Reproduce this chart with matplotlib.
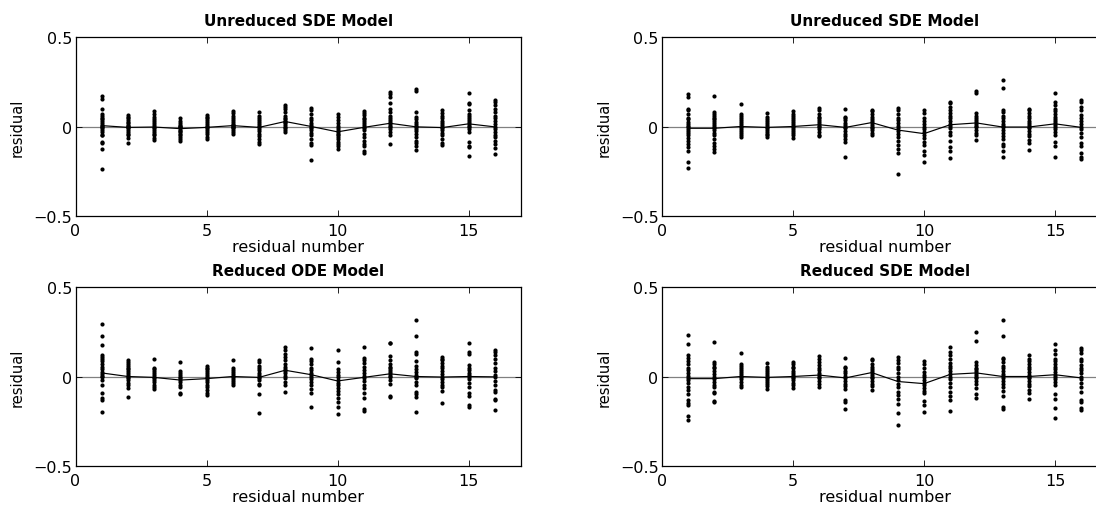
import matplotlib
matplotlib.use("Agg")
import matplotlib.pyplot as plt

plt.rcParams['font.family'] = ['DejaVu Sans']

titles = ["Unreduced SDE Model", "Unreduced SDE Model", "Reduced ODE Model", "Reduced SDE Model"]
residual_numbers = list(range(1, 17))
xticks = [0, 5, 10, 15]
yticks = [-0.5, 0, 0.5]
ytick_labels = ["\u22120.5", "0", "0.5"]

# --- Panel 1: Unreduced SDE Model (top-left) ---
p1_points = [
    [0.17, 0.155, 0.10, 0.07, 0.06, 0.05, 0.04, 0.03, 0.02, 0.01, 0.005, 0, -0.01, -0.02, -0.03, -0.045, -0.05, -0.085, -0.095, -0.127, -0.24],
    [0.063, 0.055, 0.045, 0.035, 0.025, 0.02, 0.01, 0.005, 0, -0.005, -0.01, -0.02, -0.03, -0.04, -0.05, -0.065, -0.09],
    [0.085, 0.07, 0.055, 0.04, 0.03, 0.02, 0.01, 0.0, -0.01, -0.02, -0.03, -0.04, -0.05, -0.065, -0.075],
    [0.045, 0.03, 0.02, 0.01, 0.005, 0, -0.005, -0.01, -0.02, -0.025, -0.03, -0.04, -0.05, -0.06, -0.07, -0.08],
    [0.063, 0.055, 0.045, 0.035, 0.025, 0.015, 0.005, -0.005, -0.01, -0.02, -0.03, -0.04, -0.06, -0.07],
    [0.085, 0.075, 0.06, 0.045, 0.035, 0.025, 0.015, 0.01, 0.005, 0, -0.005, -0.01, -0.02, -0.03, -0.04],
    [0.08, 0.06, 0.05, 0.035, 0.025, 0.015, 0.005, -0.005, -0.015, -0.025, -0.04, -0.055, -0.07, -0.085, -0.1],
    [0.12, 0.11, 0.1, 0.08, 0.06, 0.05, 0.04, 0.03, 0.025, 0.02, 0.01, 0.0, -0.01, -0.02, -0.03],
    [0.105, 0.09, 0.07, 0.05, 0.035, 0.02, 0.01, 0.0, -0.01, -0.02, -0.035, -0.05, -0.07, -0.09, -0.105, -0.19],
    [0.07, 0.055, 0.035, 0.02, 0.005, -0.01, -0.02, -0.03, -0.04, -0.05, -0.06, -0.07, -0.085, -0.1, -0.11, -0.125],
    [0.085, 0.075, 0.065, 0.05, 0.04, 0.03, 0.02, 0.01, 0, -0.01, -0.02, -0.04, -0.06, -0.08, -0.1, -0.11, -0.14, -0.15],
    [0.195, 0.18, 0.165, 0.13, 0.1, 0.08, 0.06, 0.045, 0.035, 0.025, 0.015, 0.005, -0.005, -0.015, -0.03, -0.045, -0.1],
    [0.21, 0.2, 0.08, 0.055, 0.04, 0.025, 0.015, 0.005, -0.005, -0.015, -0.025, -0.04, -0.06, -0.08, -0.095, -0.11, -0.13],
    [0.095, 0.075, 0.06, 0.045, 0.03, 0.02, 0.01, 0.0, -0.01, -0.02, -0.035, -0.05, -0.07, -0.09, -0.105],
    [0.19, 0.13, 0.125, 0.09, 0.07, 0.06, 0.045, 0.035, 0.025, 0.015, 0.005, -0.005, -0.015, -0.03, -0.085, -0.11, -0.115, -0.165],
    [0.15, 0.14, 0.12, 0.1, 0.08, 0.06, 0.045, 0.03, 0.015, 0.0, -0.015, -0.03, -0.045, -0.06, -0.08, -0.1, -0.12, -0.155],
]
p1_mean = [0.005, -0.005, -0.003, -0.012, -0.005, 0.005, -0.005, 0.028, 0.0, -0.03, -0.005, 0.018, -0.002, -0.006, 0.015, -0.002]

# --- Panel 2: Unreduced SDE Model (top-right) ---
p2_points = [
    [0.18, 0.165, 0.1, 0.09, 0.07, 0.05, 0.04, 0.025, 0.015, 0.005, -0.005, -0.015, -0.025, -0.035, -0.05, -0.065, -0.08, -0.1, -0.115, -0.14, -0.2, -0.235],
    [0.17, 0.08, 0.07, 0.06, 0.05, 0.04, 0.03, 0.02, 0.01, 0.0, -0.01, -0.02, -0.035, -0.05, -0.07, -0.09, -0.11, -0.125, -0.145],
    [0.125, 0.07, 0.06, 0.045, 0.035, 0.025, 0.015, 0.005, -0.005, -0.015, -0.025, -0.035, -0.045, -0.06],
    [0.075, 0.055, 0.04, 0.03, 0.02, 0.01, 0.0, -0.01, -0.02, -0.03, -0.04, -0.05, -0.06],
    [0.085, 0.07, 0.06, 0.045, 0.035, 0.025, 0.015, 0.005, -0.005, -0.015, -0.025, -0.035, -0.05, -0.065],
    [0.105, 0.09, 0.07, 0.055, 0.045, 0.035, 0.025, 0.015, 0.005, -0.005, -0.015, -0.03, -0.045, -0.055],
    [0.1, 0.055, 0.045, 0.035, 0.02, 0.01, 0.0, -0.01, -0.025, -0.04, -0.055, -0.07, -0.085, -0.17],
    [0.095, 0.085, 0.07, 0.055, 0.04, 0.03, 0.02, 0.01, 0.0, -0.01, -0.02, -0.035, -0.05],
    [0.105, 0.09, 0.07, 0.05, 0.035, 0.02, 0.005, -0.01, -0.025, -0.04, -0.06, -0.08, -0.105, -0.125, -0.15, -0.265],
    [0.09, 0.075, 0.05, 0.03, 0.015, 0.0, -0.015, -0.03, -0.045, -0.065, -0.085, -0.105, -0.135, -0.16, -0.2],
    [0.14, 0.13, 0.11, 0.09, 0.075, 0.06, 0.045, 0.03, 0.015, 0.005, -0.01, -0.03, -0.05, -0.08, -0.115, -0.135, -0.175],
    [0.2, 0.19, 0.075, 0.06, 0.05, 0.035, 0.025, 0.015, 0.005, -0.005, -0.02, -0.035, -0.05, -0.075],
    [0.26, 0.215, 0.095, 0.08, 0.06, 0.045, 0.03, 0.015, 0.005, -0.005, -0.02, -0.035, -0.055, -0.07, -0.1, -0.11, -0.14, -0.17],
    [0.1, 0.09, 0.075, 0.06, 0.045, 0.03, 0.02, 0.01, 0.0, -0.01, -0.025, -0.04, -0.055, -0.075, -0.095, -0.13],
    [0.185, 0.14, 0.12, 0.1, 0.085, 0.07, 0.055, 0.04, 0.03, 0.02, 0.01, 0.0, -0.015, -0.03, -0.05, -0.085, -0.11, -0.17],
    [0.15, 0.14, 0.11, 0.09, 0.065, 0.045, 0.03, 0.015, 0.0, -0.015, -0.035, -0.06, -0.09, -0.11, -0.15, -0.17, -0.18],
]
p2_mean = [-0.01, -0.01, 0.0, -0.005, 0.0, 0.01, -0.005, 0.022, -0.02, -0.04, 0.01, 0.02, -0.003, -0.003, 0.015, -0.005]

# --- Panel 3: Reduced ODE Model (bottom-left) ---
p3_points = [
    [0.295, 0.225, 0.175, 0.12, 0.11, 0.1, 0.085, 0.07, 0.055, 0.04, 0.025, 0.015, 0.005, -0.005, -0.02, -0.05, -0.095, -0.12, -0.13, -0.2],
    [0.09, 0.08, 0.07, 0.06, 0.05, 0.04, 0.03, 0.02, 0.01, 0.0, -0.01, -0.02, -0.035, -0.05, -0.065, -0.115],
    [0.1, 0.05, 0.04, 0.03, 0.02, 0.01, 0.0, -0.01, -0.02, -0.03, -0.045, -0.06, -0.07],
    [0.08, 0.03, 0.02, 0.01, 0.0, -0.01, -0.02, -0.03, -0.045, -0.06, -0.09, -0.1],
    [0.06, 0.05, 0.04, 0.03, 0.02, 0.01, 0.0, -0.01, -0.02, -0.03, -0.045, -0.06, -0.075, -0.09, -0.105],
    [0.09, 0.045, 0.035, 0.025, 0.015, 0.005, -0.005, -0.015, -0.025, -0.035, -0.05],
    [0.095, 0.08, 0.06, 0.045, 0.035, 0.02, 0.01, 0.0, -0.01, -0.02, -0.04, -0.05, -0.1, -0.205],
    [0.165, 0.15, 0.125, 0.11, 0.09, 0.07, 0.055, 0.04, 0.03, 0.02, 0.005, -0.01, -0.03, -0.05, -0.085],
    [0.16, 0.1, 0.085, 0.07, 0.05, 0.035, 0.02, 0.01, 0.0, -0.015, -0.03, -0.05, -0.07, -0.09, -0.17],
    [0.15, 0.08, 0.04, 0.025, 0.01, -0.005, -0.02, -0.035, -0.05, -0.065, -0.08, -0.1, -0.12, -0.145, -0.17, -0.21],
    [0.165, 0.105, 0.09, 0.075, 0.055, 0.035, 0.02, 0.005, -0.01, -0.025, -0.045, -0.065, -0.09, -0.12, -0.18, -0.195],
    [0.19, 0.185, 0.115, 0.09, 0.07, 0.055, 0.045, 0.035, 0.025, 0.015, 0.005, -0.005, -0.02, -0.04, -0.11, -0.115],
    [0.315, 0.225, 0.135, 0.125, 0.085, 0.06, 0.04, 0.025, 0.01, 0.0, -0.01, -0.03, -0.05, -0.085, -0.1, -0.115, -0.2],
    [0.11, 0.1, 0.09, 0.075, 0.06, 0.045, 0.03, 0.015, 0.0, -0.015, -0.03, -0.045, -0.06, -0.08, -0.15],
    [0.185, 0.135, 0.125, 0.065, 0.05, 0.035, 0.02, 0.01, 0.0, -0.015, -0.035, -0.06, -0.09, -0.11, -0.16, -0.17],
    [0.15, 0.14, 0.12, 0.1, 0.075, 0.05, 0.03, 0.01, -0.005, -0.025, -0.045, -0.075, -0.085, -0.125, -0.13, -0.19],
]
p3_mean = [0.02, 0.0, -0.005, -0.02, -0.012, 0.0, -0.005, 0.035, 0.01, -0.025, -0.005, 0.015, 0.0, -0.003, 0.0, -0.002]

# --- Panel 4: Reduced SDE Model (bottom-right) ---
p4_points = [
    [0.235, 0.18, 0.12, 0.105, 0.085, 0.07, 0.05, 0.035, 0.02, 0.005, -0.01, -0.02, -0.035, -0.06, -0.075, -0.1, -0.13, -0.15, -0.16, -0.22, -0.245],
    [0.195, 0.08, 0.07, 0.055, 0.045, 0.03, 0.015, 0.0, -0.015, -0.03, -0.045, -0.06, -0.085, -0.095, -0.14, -0.145],
    [0.13, 0.07, 0.06, 0.045, 0.035, 0.025, 0.015, 0.005, -0.005, -0.015, -0.03, -0.045, -0.06],
    [0.075, 0.055, 0.04, 0.03, 0.02, 0.01, 0.0, -0.01, -0.02, -0.03, -0.04, -0.055, -0.07],
    [0.08, 0.07, 0.055, 0.045, 0.03, 0.02, 0.01, 0.0, -0.01, -0.02, -0.035, -0.05, -0.065],
    [0.115, 0.1, 0.08, 0.065, 0.05, 0.035, 0.02, 0.01, 0.0, -0.01, -0.025, -0.04, -0.06],
    [0.105, 0.055, 0.045, 0.03, 0.02, 0.005, -0.01, -0.025, -0.04, -0.055, -0.07, -0.13, -0.145, -0.18],
    [0.1, 0.09, 0.07, 0.055, 0.04, 0.03, 0.02, 0.01, 0.0, -0.01, -0.025, -0.04, -0.055, -0.075],
    [0.11, 0.095, 0.075, 0.055, 0.04, 0.02, 0.0, -0.02, -0.04, -0.06, -0.085, -0.105, -0.125, -0.155, -0.205, -0.27],
    [0.085, 0.07, 0.045, 0.025, 0.01, -0.005, -0.02, -0.035, -0.05, -0.065, -0.08, -0.095, -0.135, -0.16, -0.2],
    [0.165, 0.14, 0.12, 0.1, 0.075, 0.06, 0.045, 0.03, 0.015, 0.0, -0.015, -0.035, -0.06, -0.085, -0.11, -0.13, -0.195],
    [0.25, 0.2, 0.08, 0.065, 0.05, 0.04, 0.03, 0.02, 0.01, 0.0, -0.01, -0.025, -0.04, -0.065, -0.1, -0.12],
    [0.315, 0.225, 0.105, 0.1, 0.08, 0.06, 0.045, 0.03, 0.015, 0.005, -0.01, -0.025, -0.04, -0.06, -0.08, -0.11, -0.17, -0.18],
    [0.12, 0.1, 0.085, 0.07, 0.055, 0.04, 0.025, 0.01, 0.0, -0.01, -0.025, -0.04, -0.055, -0.075, -0.095, -0.125],
    [0.18, 0.15, 0.125, 0.1, 0.085, 0.07, 0.055, 0.04, 0.025, 0.01, 0.0, -0.015, -0.03, -0.05, -0.1, -0.125, -0.175, -0.235],
    [0.16, 0.15, 0.13, 0.1, 0.085, 0.065, 0.05, 0.035, 0.02, 0.0, -0.015, -0.035, -0.06, -0.085, -0.13, -0.145, -0.175, -0.19],
]
p4_mean = [-0.012, -0.012, 0.0, -0.005, 0.0, 0.008, -0.008, 0.022, -0.028, -0.04, 0.012, 0.02, 0.0, 0.0, 0.01, -0.008]

panels = [
    (titles[0], p1_points, p1_mean),
    (titles[1], p2_points, p2_mean),
    (titles[2], p3_points, p3_mean),
    (titles[3], p4_points, p4_mean),
]

W, H = 1096, 506
fig = plt.figure(figsize=(W / 100, H / 100), dpi=100)

# axes rectangles in pixels (left, top, right, bottom)
rects = [
    (75.5, 38.3, 521.0, 216.7),
    (662.0, 38.3, 1107.5, 216.7),
    (75.5, 288.3, 521.0, 466.7),
    (662.0, 288.3, 1107.5, 466.7),
]

for (title, pts, mean), (l, t, r, b) in zip(panels, rects):
    ax = fig.add_axes([l / W, 1 - b / H, (r - l) / W, (b - t) / H])
    ax.axhline(0, color='0.5', lw=0.9, zorder=1)
    for xi, col in zip(residual_numbers, pts):
        ax.plot([xi] * len(col), col, linestyle='none', marker='o',
                markersize=3.0, markeredgewidth=0, color='black', zorder=3)
    ax.plot(residual_numbers, mean, color='black', lw=0.85, zorder=2)
    ax.set_xlim(0, 17)
    ax.set_ylim(-0.5, 0.5)
    ax.set_xticks(xticks)
    ax.set_yticks(yticks)
    ax.set_yticklabels(ytick_labels)
    ax.tick_params(direction='in', top=True, right=True, length=4,
                   width=0.6, labelsize=11.5)
    ax.tick_params(axis='x', pad=5)
    ax.tick_params(axis='y', pad=2.5)
    for s in ax.spines.values():
        s.set_linewidth(0.9)
    ax.set_title(title, fontsize=11, fontweight='bold', pad=9)
    ax.set_xlabel('residual number', fontsize=11.5, labelpad=1)
    ax.set_ylabel('residual', fontsize=10.5, labelpad=6)

fig.savefig('out.png', dpi=100)
